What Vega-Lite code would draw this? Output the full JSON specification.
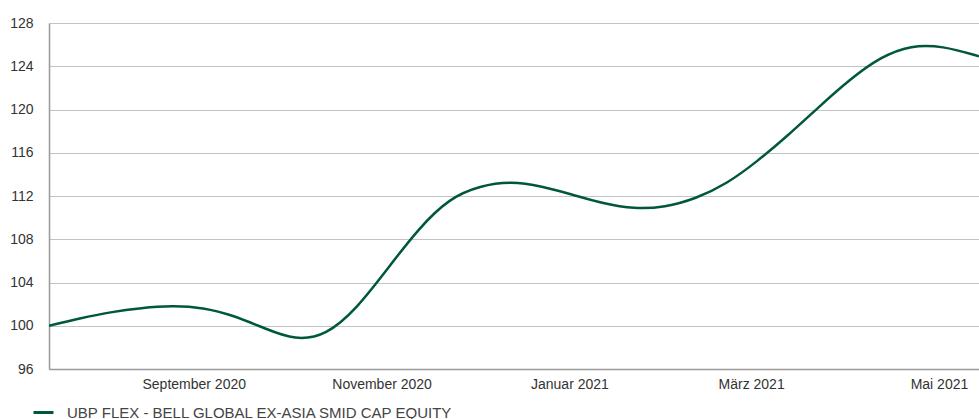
{
  "$schema": "https://vega.github.io/schema/vega-lite/v6.json",
  "width": 930,
  "height": 346,
  "autosize": "none",
  "padding": {"left": 49, "top": 23, "right": 0, "bottom": 50},
  "background": "white",
  "data": {
    "values": [
      {"date": "2020-07-16", "value": 100.0, "series": "UBP FLEX - BELL GLOBAL EX-ASIA SMID CAP EQUITY"},
      {"date": "2020-07-26", "value": 100.68, "series": "UBP FLEX - BELL GLOBAL EX-ASIA SMID CAP EQUITY"},
      {"date": "2020-08-05", "value": 101.27, "series": "UBP FLEX - BELL GLOBAL EX-ASIA SMID CAP EQUITY"},
      {"date": "2020-08-15", "value": 101.66, "series": "UBP FLEX - BELL GLOBAL EX-ASIA SMID CAP EQUITY"},
      {"date": "2020-08-25", "value": 101.86, "series": "UBP FLEX - BELL GLOBAL EX-ASIA SMID CAP EQUITY"},
      {"date": "2020-09-04", "value": 101.7, "series": "UBP FLEX - BELL GLOBAL EX-ASIA SMID CAP EQUITY"},
      {"date": "2020-09-14", "value": 100.95, "series": "UBP FLEX - BELL GLOBAL EX-ASIA SMID CAP EQUITY"},
      {"date": "2020-09-24", "value": 99.75, "series": "UBP FLEX - BELL GLOBAL EX-ASIA SMID CAP EQUITY"},
      {"date": "2020-10-04", "value": 98.65, "series": "UBP FLEX - BELL GLOBAL EX-ASIA SMID CAP EQUITY"},
      {"date": "2020-10-14", "value": 99.1, "series": "UBP FLEX - BELL GLOBAL EX-ASIA SMID CAP EQUITY"},
      {"date": "2020-10-24", "value": 101.6, "series": "UBP FLEX - BELL GLOBAL EX-ASIA SMID CAP EQUITY"},
      {"date": "2020-11-03", "value": 105.3, "series": "UBP FLEX - BELL GLOBAL EX-ASIA SMID CAP EQUITY"},
      {"date": "2020-11-13", "value": 109.0, "series": "UBP FLEX - BELL GLOBAL EX-ASIA SMID CAP EQUITY"},
      {"date": "2020-11-23", "value": 111.8, "series": "UBP FLEX - BELL GLOBAL EX-ASIA SMID CAP EQUITY"},
      {"date": "2020-12-03", "value": 112.95, "series": "UBP FLEX - BELL GLOBAL EX-ASIA SMID CAP EQUITY"},
      {"date": "2020-12-13", "value": 113.36, "series": "UBP FLEX - BELL GLOBAL EX-ASIA SMID CAP EQUITY"},
      {"date": "2020-12-23", "value": 112.9, "series": "UBP FLEX - BELL GLOBAL EX-ASIA SMID CAP EQUITY"},
      {"date": "2021-01-02", "value": 112.12, "series": "UBP FLEX - BELL GLOBAL EX-ASIA SMID CAP EQUITY"},
      {"date": "2021-01-12", "value": 111.3, "series": "UBP FLEX - BELL GLOBAL EX-ASIA SMID CAP EQUITY"},
      {"date": "2021-01-22", "value": 110.8, "series": "UBP FLEX - BELL GLOBAL EX-ASIA SMID CAP EQUITY"},
      {"date": "2021-02-01", "value": 110.95, "series": "UBP FLEX - BELL GLOBAL EX-ASIA SMID CAP EQUITY"},
      {"date": "2021-02-11", "value": 111.75, "series": "UBP FLEX - BELL GLOBAL EX-ASIA SMID CAP EQUITY"},
      {"date": "2021-02-21", "value": 113.1, "series": "UBP FLEX - BELL GLOBAL EX-ASIA SMID CAP EQUITY"},
      {"date": "2021-03-03", "value": 115.2, "series": "UBP FLEX - BELL GLOBAL EX-ASIA SMID CAP EQUITY"},
      {"date": "2021-03-13", "value": 117.6, "series": "UBP FLEX - BELL GLOBAL EX-ASIA SMID CAP EQUITY"},
      {"date": "2021-03-23", "value": 120.24, "series": "UBP FLEX - BELL GLOBAL EX-ASIA SMID CAP EQUITY"},
      {"date": "2021-04-02", "value": 122.77, "series": "UBP FLEX - BELL GLOBAL EX-ASIA SMID CAP EQUITY"},
      {"date": "2021-04-12", "value": 124.87, "series": "UBP FLEX - BELL GLOBAL EX-ASIA SMID CAP EQUITY"},
      {"date": "2021-04-22", "value": 125.95, "series": "UBP FLEX - BELL GLOBAL EX-ASIA SMID CAP EQUITY"},
      {"date": "2021-05-02", "value": 125.9, "series": "UBP FLEX - BELL GLOBAL EX-ASIA SMID CAP EQUITY"},
      {"date": "2021-05-14", "value": 124.93, "series": "UBP FLEX - BELL GLOBAL EX-ASIA SMID CAP EQUITY"}
    ]
  },
  "mark": {"type": "line", "interpolate": "basis", "strokeWidth": 2.5, "clip": true},
  "encoding": {
    "x": {
      "field": "date",
      "type": "temporal",
      "scale": {"domain": [{"year": 2020, "month": 7, "date": 16}, {"year": 2021, "month": 5, "date": 14}]},
      "axis": {
        "title": null,
        "grid": false,
        "ticks": false,
        "domainColor": "#999999",
        "domainWidth": 1.5,
        "labelPadding": 8,
        "labelFlush": false,
        "labelOverlap": false,
        "values": [
          {"year": 2020, "month": 9, "date": 1},
          {"year": 2020, "month": 11, "date": 1},
          {"year": 2021, "month": 1, "date": 1},
          {"year": 2021, "month": 3, "date": 1},
          {"year": 2021, "month": 5, "date": 1}
        ],
        "labelExpr": "['Januar','Februar','März','April','Mai','Juni','Juli','August','September','Oktober','November','Dezember'][month(datum.value)] + ' ' + year(datum.value)"
      }
    },
    "y": {
      "field": "value",
      "type": "quantitative",
      "scale": {"domain": [96, 128], "nice": false, "zero": false},
      "axis": {
        "title": null,
        "values": [96, 100, 104, 108, 112, 116, 120, 124, 128],
        "ticks": false,
        "labelPadding": 16,
        "domainColor": "#999999",
        "domainWidth": 1.5,
        "gridColor": "#c4c4c4",
        "gridWidth": 1
      }
    },
    "color": {
      "field": "series",
      "type": "nominal",
      "scale": {"range": ["#00583c"]},
      "legend": {
        "title": null,
        "orient": "none",
        "legendX": -17,
        "legendY": 378,
        "symbolType": "stroke",
        "symbolSize": 400,
        "symbolStrokeWidth": 3,
        "labelFont": "Liberation Sans",
        "labelFontSize": 15,
        "labelColor": "#444444",
        "labelOffset": 12,
        "labelLimit": 0
      }
    }
  },
  "config": {
    "view": {"stroke": null},
    "axis": {
      "labelFont": "Liberation Sans",
      "labelFontSize": 14,
      "labelColor": "#333333"
    }
  }
}
